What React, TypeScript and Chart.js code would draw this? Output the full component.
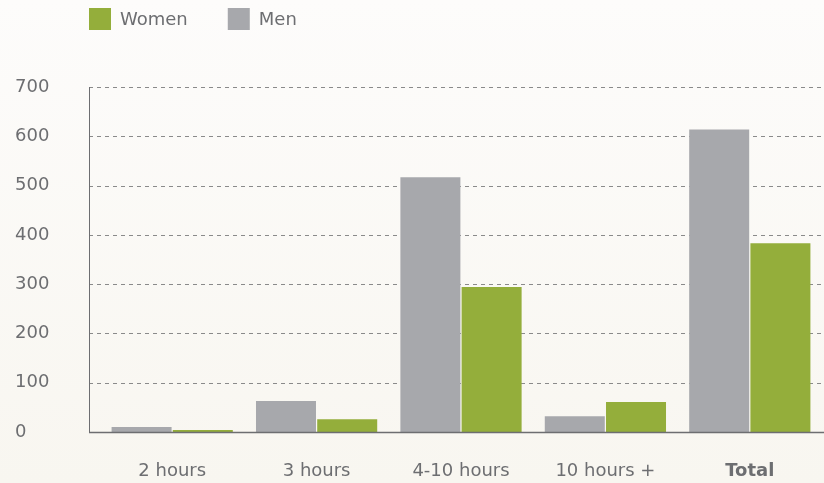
import React, { useEffect, useRef } from "react";
import { Chart, registerables } from "chart.js";

Chart.register(...registerables);

const categories = ["2 hours", "3 hours", "4-10 hours", "10 hours +", "Total"];
const menValues = [10, 63, 517, 32, 614];
const womenValues = [4, 26, 294, 61, 383];
const yMin = 0;
const yMax = 700;
const yStep = 100;

const GREEN = "#94ae3b";
const GRAY = "#a7a8ac";
const TEXT = "#6d6e71";
const FONT = "'DejaVu Sans', sans-serif";

const decorPlugin = {
  id: "decor",
  beforeDatasetsDraw(chart: any) {
    const { ctx, chartArea, scales } = chart;
    const y = scales.y;
    const axisX = chartArea.left - 11;
    ctx.save();
    ctx.strokeStyle = "#8a8a8a";
    ctx.lineWidth = 1;
    ctx.setLineDash([4, 4]);
    y.ticks.forEach((t: any) => {
      if (t.value === yMin) return;
      const py = Math.round(y.getPixelForValue(t.value)) + 0.5;
      ctx.beginPath();
      ctx.moveTo(axisX, py);
      ctx.lineTo(chart.width, py);
      ctx.stroke();
    });
    ctx.setLineDash([]);
    ctx.strokeStyle = TEXT;
    ctx.beginPath();
    const topY = Math.round(y.getPixelForValue(yMax));
    const botY = Math.round(y.getPixelForValue(yMin));
    ctx.moveTo(axisX + 0.5, topY);
    ctx.lineTo(axisX + 0.5, botY);
    ctx.stroke();
    ctx.restore();
  },
  afterDatasetsDraw(chart: any) {
    const { ctx, chartArea, scales } = chart;
    const y = scales.y;
    const axisX = chartArea.left - 11;
    const botY = Math.round(y.getPixelForValue(yMin));
    ctx.save();
    ctx.strokeStyle = TEXT;
    ctx.lineWidth = 1.5;
    ctx.beginPath();
    ctx.moveTo(axisX, botY + 0.5);
    ctx.lineTo(chart.width, botY + 0.5);
    ctx.stroke();
    ctx.restore();
  },
  afterDraw(chart: any) {
    const { ctx, chartArea } = chart;
    const items = [...chart.data.datasets].reverse();
    let x = chartArea.left - 11;
    const top = 8;
    const box = 22;
    ctx.save();
    ctx.font = `18px ${FONT}`;
    ctx.textBaseline = "middle";
    ctx.textAlign = "left";
    items.forEach((ds: any) => {
      ctx.fillStyle = ds.backgroundColor;
      ctx.fillRect(x, top, box, box);
      ctx.fillStyle = TEXT;
      const tx = x + box + 9;
      ctx.fillText(ds.label, tx, top + box / 2 + 1);
      x = tx + ctx.measureText(ds.label).width + 40;
    });
    ctx.restore();
  },
};

export default function App() {
  const ref = useRef<HTMLCanvasElement>(null);

  useEffect(() => {
    document.body.style.margin = "0";
    document.body.style.background = "linear-gradient(#fdfcfb, #f8f6f0)";
    document.body.style.minHeight = "483px";
    const canvas = ref.current!;
    const chart = new Chart(canvas, {
      type: "bar",
      data: {
        labels: categories,
        datasets: [
          {
            label: "Men",
            data: menValues,
            backgroundColor: GRAY,
            barPercentage: 0.98,
            categoryPercentage: 0.848,
          },
          {
            label: "Women",
            data: womenValues,
            backgroundColor: GREEN,
            barPercentage: 0.98,
            categoryPercentage: 0.848,
          },
        ],
      },
      options: {
        animation: false,
        responsive: false,
        devicePixelRatio: 1,
        layout: { padding: { left: 15, right: 2, top: 87, bottom: 0 } },
        plugins: {
          legend: { display: false },
          tooltip: { enabled: false },
        },
        scales: {
          x: {
            grid: { display: false, drawTicks: false },
            border: { display: false },
            ticks: {
              padding: 29,
              color: TEXT,
              font: (c: any) => ({
                family: FONT,
                size: 18,
                weight: c.index === categories.length - 1 ? "bold" : "normal",
              }),
            },
            afterFit: (s: any) => {
              s.height = 51;
            },
          },
          y: {
            min: yMin,
            max: yMax,
            grid: { display: false, drawTicks: false },
            border: { display: false },
            ticks: {
              stepSize: yStep,
              crossAlign: "far",
              color: TEXT,
              font: { family: FONT, size: 18 },
            },
            afterFit: (s: any) => {
              s.width = 85;
            },
          },
        },
      },
      plugins: [decorPlugin],
    });
    return () => chart.destroy();
  }, []);

  return (
    <div style={{ width: 824, height: 483 }}>
      <canvas ref={ref} width={824} height={483} />
    </div>
  );
}
